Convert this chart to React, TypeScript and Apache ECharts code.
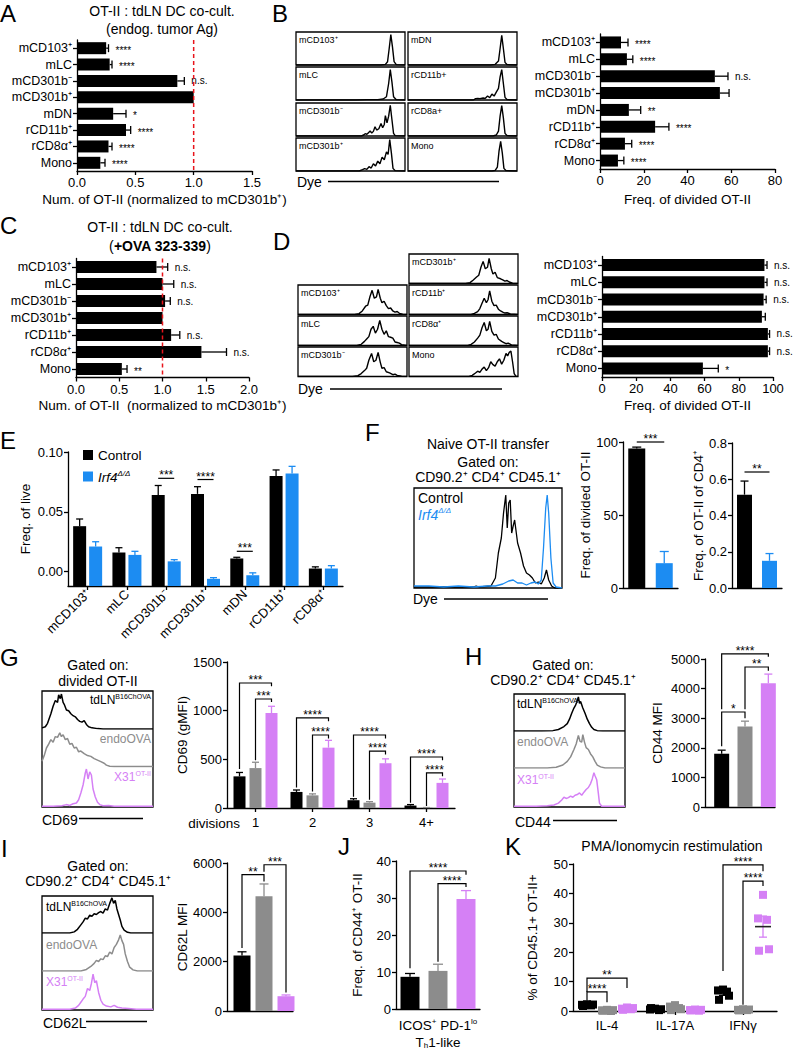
import React, { useEffect, useRef } from "react";
import * as echarts from "echarts";

const FONT = '"Liberation Sans", Arial, Helvetica, sans-serif';
const BLACK = "#000000";
const GRAY = "#8c8c8c";
const PINK = "#d580f5";
const BLUE = "#1c8cf2";
const RED = "#e8141b";

/* ---------------- Panel A ---------------- */
const A_CATS = ["mCD103⁺", "mLC", "mCD301b⁻", "mCD301b⁺", "mDN", "rCD11b⁺", "rCD8α⁺", "Mono"];
const A_MEAN = [0.25, 0.28, 0.86, 1.0, 0.31, 0.42, 0.27, 0.2];
const A_ERR = [0.27, 0.3, 0.92, 1.0, 0.42, 0.46, 0.3, 0.24];
const A_SIG = ["****", "****", "n.s.", "", "*", "****", "****", "****"];
const A_REF = [1.0];

/* ---------------- Panel B ---------------- */
const B_CATS = ["mCD103⁺", "mLC", "mCD301b⁻", "mCD301b⁺", "mDN", "rCD11b⁺", "rCD8α⁺", "Mono"];
const B_MEAN = [9.6, 12.3, 52.5, 54.8, 13.2, 25.2, 11.4, 8.2];
const B_ERR = [12.8, 15.0, 58.5, 59.0, 18.6, 31.5, 14.5, 10.9];
const B_SIG = ["****", "****", "n.s.", "", "**", "****", "****", "****"];
const B_HIST_LEFT = ["mCD103⁺", "mLC", "mCD301b⁻", "mCD301b⁺"];
const B_HIST_RIGHT = ["mDN", "rCD11b+", "rCD8a+", "Mono"];
const HB_MCD103 = [[0, 0], [78, 0], [82, 2], [84, 10], [85.5, 50], [87, 92], [88.5, 55], [90, 10], [92, 1], [100, 0]];
const HB_MLC = [[0, 0], [55, 0], [65, 1], [75, 1], [80, 3], [83, 10], [85, 50], [86.5, 92], [88, 55], [89.5, 10], [92, 1], [100, 0]];
const HB_MCD301BN = [[0, 0], [60, 0], [62, 3], [63.5, 7], [65, 5], [66.5, 10], [68, 15], [69.5, 9], [71, 14], [72.5, 28], [74, 18], [76, 22], [78, 38], [79.5, 25], [81, 35], [82, 62], [83.5, 40], [85, 60], [86.5, 93], [88, 50], [89.5, 8], [91, 1], [100, 0]];
const HB_MCD301BP = [[0, 0], [58, 0], [61, 4], [63, 7], [65, 5], [67, 13], [69, 9], [71, 22], [73, 15], [75, 30], [77, 22], [79, 42], [81, 34], [83, 58], [84.5, 50], [86, 95], [87.5, 55], [89, 8], [91, 1], [100, 0]];
const HB_MDN = [[0, 0], [76, 0], [80, 2], [83, 12], [84.5, 50], [86, 90], [87.5, 50], [89, 8], [91, 1], [100, 0]];
const HB_RCD11B = [[0, 0], [60, 0], [62, 4], [64, 5], [66, 4], [69, 6], [71, 5], [73, 12], [75, 7], [77, 18], [79, 12], [81, 24], [83, 35], [84.5, 70], [86, 92], [87.5, 50], [89, 8], [91, 1], [100, 0]];
const HB_RCD8A = [[0, 0], [78, 0], [81, 3], [83, 15], [84.5, 60], [86, 92], [87.5, 55], [89, 8], [91, 1], [100, 0]];
const HB_MONO = [[0, 0], [77, 0], [80, 2], [82, 12], [83.5, 60], [85, 90], [86.5, 55], [88, 8], [90, 1], [100, 0]];

/* ---------------- Panel C ---------------- */
const C_CATS = ["mCD103⁺", "mLC", "mCD301b⁻", "mCD301b⁺", "rCD11b⁺", "rCD8α⁺", "Mono"];
const C_MEAN = [0.93, 1.0, 1.03, 1.0, 1.1, 1.45, 0.53];
const C_ERR = [1.06, 1.13, 1.09, 1.0, 1.2, 1.74, 0.59];
const C_SIG = ["n.s.", "n.s.", "n.s.", "", "n.s.", "n.s.", "**"];
const C_REF = [1.0];

/* ---------------- Panel D ---------------- */
const D_CATS = ["mCD103⁺", "mLC", "mCD301b⁻", "mCD301b⁺", "rCD11b⁺", "rCD8α⁺", "Mono"];
const D_MEAN = [95, 95, 94.5, 93.5, 97, 97, 59];
const D_ERR = [96.5, 96.5, 96, 95.5, 98, 98, 68];
const D_SIG = ["n.s.", "n.s.", "n.s.", "", "n.s.", "n.s.", "*"];
const D_HIST_LEFT = ["mCD103⁺", "mLC", "mCD301b⁻"];
const D_HIST_RIGHT = ["mCD301b⁺", "rCD11b⁺", "rCD8α⁺", "Mono"];
const HD_MCD103 = [[0, 0], [52, 0], [56, 3], [59, 12], [62, 28], [64, 32], [66, 60], [68, 82], [70, 55], [72, 60], [73.5, 85], [75.5, 55], [77, 40], [79, 45], [81, 30], [83, 20], [85, 22], [87, 12], [89, 8], [91, 10], [93, 4], [96, 1], [100, 0]];
const HD_MLC = [[0, 0], [54, 0], [58, 4], [61, 14], [63, 22], [65, 30], [67, 55], [69, 65], [71, 42], [73, 55], [75, 85], [77, 55], [79, 38], [81, 50], [83, 30], [85, 28], [87, 25], [89, 12], [91, 10], [93, 8], [95, 3], [100, 0]];
const HD_MCD301BN = [[0, 0], [50, 0], [55, 3], [58, 10], [61, 20], [63, 28], [65, 55], [67.5, 78], [69.5, 50], [71.5, 55], [73.5, 82], [75.5, 48], [77, 28], [79, 30], [81, 16], [84, 12], [87, 6], [89, 8], [91, 4], [95, 1], [100, 0]];
const HD_MCD301BP = [[0, 0], [52, 0], [56, 3], [59, 12], [62, 22], [64, 28], [66, 55], [68, 75], [70, 50], [72, 55], [73.5, 85], [75.5, 50], [77, 32], [79, 38], [81, 20], [84, 16], [86, 12], [88, 8], [90, 10], [92, 5], [95, 1], [100, 0]];
const HD_RCD11B = [[0, 0], [57, 0], [60, 4], [63, 10], [65, 20], [67, 38], [69, 55], [71, 40], [72.5, 50], [74, 80], [76, 45], [78, 30], [80, 32], [82, 18], [84, 12], [86, 8], [88, 5], [90, 6], [93, 2], [100, 0]];
const HD_RCD8A = [[0, 0], [54, 0], [57, 4], [60, 12], [63, 25], [65, 35], [67, 60], [69, 78], [71, 50], [72.5, 55], [74, 82], [76, 48], [78, 35], [80, 38], [82, 22], [85, 14], [87, 10], [89, 6], [91, 8], [94, 2], [100, 0]];
const HD_MONO = [[0, 0], [55, 0], [58, 4], [61, 12], [63, 18], [65, 14], [67, 25], [69, 32], [71, 20], [73, 30], [75, 50], [77, 40], [79, 35], [81, 50], [83, 60], [85, 42], [87, 55], [89, 78], [90.5, 70], [92, 82], [93.5, 86], [95, 50], [96.5, 10], [98, 1], [100, 0]];

/* ---------------- Panel E ---------------- */
const E_CATS = ["mCD103⁺", "mLC", "mCD301b⁻", "mCD301b⁺", "mDN", "rCD11b⁺", "rCD8α⁺"];
const E_CTRL = [0.038, 0.016, 0.064, 0.065, 0.011, 0.08, 0.0026];
const E_CTRL_ERR = [0.044, 0.02, 0.072, 0.071, 0.012, 0.085, 0.004];
const E_IRF4 = [0.021, 0.014, 0.0086, -0.006, -0.003, 0.082, 0.0026];
const E_IRF4_ERR = [0.025, 0.017, 0.01, -0.005, -0.001, 0.088, 0.005];
const E_TICKS = [0, 0.05, 0.1];
const E_BRK = [[2, 0, 2, 1, 0.078, 0.078, 0.078], [3, 0, 3, 1, 0.077, 0.077, 0.077], [4, 0, 4, 1, 0.017, 0.017, 0.017]];
const E_BRK_LAB = ["***", "****", "***"];

/* ---------------- Panel F ---------------- */
const F_CATS = ["Control", "Irf4"];
const F1_VAL = [95.5, 17];
const F1_ERR = [96.5, 25];
const F2_VAL = [0.515, 0.15];
const F2_ERR = [0.59, 0.19];
const F1_BRK = [[0, 0, 1, 0, 100, 100, 100]];
const F2_BRK = [[0, 0, 1, 0, 0.64, 0.64, 0.64]];
const HF_CTRL = [[0, 1], [30, 1], [40, 1], [42, 2], [44, 1], [52, 2], [55, 10], [57, 35], [59, 50], [60.5, 75], [62, 93], [63, 60], [64, 85], [65, 88], [66, 55], [67, 62], [68, 68], [70, 45], [72, 35], [74, 22], [76, 15], [78, 13], [80, 10], [82, 5], [84, 6], [86, 4], [88, 10], [89.5, 18], [91, 8], [93, 2], [95, 0], [100, 0]];
const HF_IRF4 = [[0, 2], [10, 2], [20, 1], [30, 2], [40, 1], [50, 2], [55, 2], [60, 4], [64, 7], [67, 8], [70, 5], [73, 5], [76, 3], [79, 5], [82, 6], [84, 4], [86, 8], [87.5, 40], [89, 80], [90, 93], [91, 75], [92.5, 30], [94, 5], [96, 1], [100, 0]];

/* ---------------- Panel G ---------------- */
const G_CATS = ["1", "2", "3", "4+"];
const G_TD = [325, 165, 80, 25];
const G_TD_ERR = [365, 185, 95, 35];
const G_ENDO = [410, 130, 55, 3];
const G_ENDO_ERR = [470, 145, 65, 5];
const G_X31 = [975, 620, 460, 258];
const G_X31_ERR = [1045, 695, 505, 298];
const G_BRK = [[0, 0, 0, 2, 1284, 400, 1250], [0, 1, 0, 2, 1120, 490, 1090], [1, 0, 1, 2, 925, 210, 890], [1, 1, 1, 2, 750, 170, 715], [2, 0, 2, 2, 750, 115, 715], [2, 1, 2, 2, 585, 85, 550], [3, 0, 3, 2, 524, 55, 490], [3, 1, 3, 2, 360, 20, 325]];
const G_BRK_LAB = ["***", "***", "****", "****", "****", "****", "****", "****"];
const HG_TD = [[0, 3], [3, 6], [5, 15], [8, 40], [10, 60], [12, 75], [14, 70], [15, 90], [16.5, 80], [17.5, 92], [19, 70], [20, 65], [22, 50], [24, 48], [26, 40], [28, 35], [30, 32], [32, 25], [34, 20], [36, 18], [38, 22], [40, 12], [42, 6], [45, 3], [50, 1], [55, 0], [100, 0]];
const HG_ENDO = [[0, 15], [2, 30], [4, 50], [6, 60], [8, 72], [10, 65], [12, 80], [14, 78], [16, 90], [17.5, 80], [19, 85], [21, 72], [23, 75], [25, 60], [27, 62], [29, 50], [31, 52], [33, 40], [35, 42], [38, 35], [41, 30], [44, 28], [47, 22], [50, 18], [53, 14], [56, 10], [58, 5], [61, 2], [65, 1], [100, 1]];
const HG_X31 = [[0, 2], [10, 2], [18, 3], [22, 6], [25, 4], [28, 8], [31, 10], [33, 18], [35, 35], [37, 55], [39, 85], [40, 95], [41.5, 70], [43, 88], [44.5, 80], [46, 45], [48, 25], [50, 12], [52, 6], [55, 3], [60, 4], [65, 2], [75, 2], [100, 2]];

/* ---------------- Panel H ---------------- */
const H_CATS = ["tdLN", "endoOVA", "X31"];
const H_VAL = [1800, 2720, 4180];
const H_ERR = [1920, 2900, 4490];
const H_BRK = [[0, 0, 2, 0, 5170, 3300, 5080], [0, 0, 1, 0, 3210, 2050, 3000], [1, 0, 2, 0, 4730, 3300, 4600]];
const H_BRK_LAB = ["****", "*", "**"];
const HH_TD = [[0, 0], [25, 0], [35, 1], [40, 4], [45, 12], [48, 20], [50, 32], [52, 48], [54, 62], [55.5, 70], [56.5, 78], [58, 92], [59, 75], [60, 80], [62, 62], [64, 48], [66, 32], [68, 20], [70, 10], [72, 4], [75, 1], [80, 0], [100, 0]];
const HH_ENDO = [[0, 0], [30, 0], [38, 2], [44, 8], [48, 18], [51, 30], [54, 50], [56, 65], [58, 88], [59.5, 72], [61, 70], [62, 90], [63.5, 70], [65, 55], [67, 50], [69, 38], [71, 30], [73, 18], [75, 8], [78, 3], [82, 0], [100, 0]];
const HH_X31 = [[0, 2], [20, 2], [30, 3], [36, 5], [40, 10], [43, 18], [45, 25], [47, 22], [49, 24], [51, 28], [53, 25], [55, 30], [57, 32], [59, 36], [61, 30], [63, 38], [65, 45], [67, 50], [69, 60], [70.5, 72], [72, 88], [73, 80], [74.5, 70], [76, 35], [77, 10], [79, 2], [100, 2]];

/* ---------------- Panel I ---------------- */
const I_CATS = ["tdLN", "endoOVA", "X31"];
const I_VAL = [2250, 4650, 600];
const I_ERR = [2400, 5150, 650];
const I_BRK = [[0, 0, 1, 0, 5530, 2550, 5250], [1, 0, 2, 0, 5930, 5650, 750]];
const I_BRK_LAB = ["**", "***"];
const HI_TD = [[0, 0], [25, 0], [29, 3], [32, 10], [35, 22], [37, 30], [39, 40], [41, 38], [43, 48], [45, 45], [47, 52], [49, 50], [51, 55], [53, 58], [55, 54], [57, 65], [59, 62], [61, 80], [63, 95], [64.5, 80], [66, 88], [67.5, 65], [69, 50], [70.5, 35], [72, 18], [74, 8], [77, 2], [80, 0], [100, 0]];
const HI_ENDO = [[0, 0], [35, 0], [40, 4], [44, 12], [47, 20], [49, 28], [51, 25], [53, 32], [55, 30], [57, 40], [59, 38], [61, 50], [63, 45], [65, 62], [67, 70], [69, 82], [70.5, 95], [72, 80], [73.5, 70], [75, 45], [77, 25], [79, 10], [82, 3], [86, 0], [100, 0]];
const HI_X31 = [[0, 2], [25, 2], [30, 5], [33, 12], [35, 20], [37, 28], [39, 35], [41, 55], [43, 50], [44.5, 68], [46, 92], [47.5, 70], [49, 75], [51, 45], [53, 25], [55, 15], [58, 10], [62, 8], [65, 12], [68, 7], [72, 5], [78, 4], [85, 2], [100, 2]];

/* ---------------- Panel J ---------------- */
const J_CATS = ["tdLN", "endoOVA", "X31"];
const J_VAL = [8.7, 10.3, 29.7];
const J_ERR = [9.6, 12.1, 32.0];
const J_BRK = [[0, 0, 2, 0, 37.3, 11, 36.3], [1, 0, 2, 0, 33.9, 12.8, 33]];
const J_BRK_LAB = ["****", "****"];

/* ---------------- Panel K ---------------- */
const K_CATS = ["IL-4", "IL-17A", "IFNγ"];
const K_TD = [[2.3, 2.1, 1.9, 2.2, 1.7], [0.8, 0.5, 0.3, 0.6, 1.0], [7.3, 7.0, 6.6, 5.2, 3.8]];
const K_ENDO = [[0.4, 0.2, 0.0, 0.3, 0.1], [2.0, 1.5, 1.0, 0.6, 0.3], [0.6, 0.4, 0.3, 0.5, 0.2]];
const K_X31 = [[1.2, 0.8, 0.6, 1.0, 0.4], [0.5, 0.3, 0.1, 0.4, 0.2], [39.5, 31.5, 31.0, 21.0, 20.5]];
const K_BRK = [[0, 0, 0, 2, 11.2, 6.5, 7.8], [0, 0, 0, 1, 6.5, 3.5, 3.0], [2, 0, 2, 2, 49.7, 13.6, 47.5], [2, 1, 2, 2, 44.2, 2.1, 42.5]];
const K_BRK_LAB = ["**", "****", "****", "****"];
const K_JIT = [0, -5, 4, 6, -4];

const plain = (v: number) => String(v);

function buildOption() {
  const grids: any[] = [];
  const xAxes: any[] = [];
  const yAxes: any[] = [];
  const series: any[] = [];
  const gfx: any[] = [];

  const addGrid = (rect: any, xa: any, ya: any) => {
    const gi = grids.length;
    grids.push({ containLabel: false, ...rect });
    xAxes.push({ ...xa, gridIndex: gi });
    yAxes.push({ ...ya, gridIndex: gi });
    return gi;
  };
  const LS = { color: "#000", width: 1.3 };
  const nameStyle = { color: "#000", fontSize: 13.5, fontFamily: FONT };
  const vAxis = (min: number, max: number, interval: any, o: any = {}) => ({
    type: "value", min, max, interval,
    minInterval: o.minInterval, maxInterval: o.maxInterval,
    axisLine: { show: true, onZero: false, lineStyle: LS },
    axisTick: { show: true, length: 4, lineStyle: LS, ...(o.tick || {}) },
    axisLabel: { color: "#000", fontSize: 13, fontFamily: FONT, margin: 5, formatter: plain, ...(o.label || {}) },
    splitLine: { show: false },
    name: o.name, nameLocation: "middle", nameGap: o.nameGap, nameRotate: o.nameRotate, nameTextStyle: nameStyle,
  });
  const cAxis = (data: string[], o: any = {}) => ({
    type: "category", data, inverse: !!o.inverse,
    axisLine: { show: true, onZero: false, lineStyle: LS },
    axisTick: { show: o.tickShow !== false, length: 4, alignWithLabel: true, interval: 0, lineStyle: LS },
    axisLabel: { show: o.labelShow !== false, interval: 0, color: "#000", fontSize: o.size || 13, fontFamily: FONT, margin: 5, ...(o.label || {}) },
    splitLine: { show: false },
  });
  const HID = (min: number, max: number) => ({ type: "value", min, max, show: false });

  const T = (x: number, y: number, text: string, o: any = {}) => {
    gfx.push({
      type: "text", x, y, silent: true, z: 20, rotation: o.rot || 0,
      style: {
        text, fill: o.color || "#000",
        font: `${o.italic ? "italic " : ""}${o.bold ? "bold " : ""}${o.size || 13.5}px ${FONT}`,
        textAlign: o.align || "left", align: o.align || "left",
        textVerticalAlign: o.va || "middle", verticalAlign: o.va || "middle",
        rich: o.rich,
      },
    });
  };
  const L = (x1: number, y1: number, x2: number, y2: number, w = 1.3, color = "#000") => {
    gfx.push({ type: "line", silent: true, z: 20, shape: { x1, y1, x2, y2 }, style: { stroke: color, lineWidth: w } });
  };
  const richSet = (size: number, color: string, sup = 7, italic = false) => ({
    m: { fontSize: size, fontFamily: FONT, fill: color, fontStyle: italic ? "italic" : "normal", lineHeight: size + 1, verticalAlign: "bottom" },
    s: { fontSize: sup, fontFamily: FONT, fill: color, fontStyle: italic ? "italic" : "normal", verticalAlign: "top" },
    d: { fontSize: sup, fontFamily: FONT, fill: color, verticalAlign: "bottom" },
    b: { fontSize: size, fontFamily: FONT, fill: color, fontWeight: "bold", lineHeight: size + 1, verticalAlign: "bottom" },
  });

  const barSeries = (gi: number, vals: number[], errs: number[], o: any) => ({
    type: "custom", name: o.name, xAxisIndex: gi, yAxisIndex: gi, silent: true, clip: false, z: 3,
    itemStyle: { color: o.color || BLACK },
    dimensions: ["c", "v", "e"],
    encode: o.horizontal ? { y: 0, x: [1, 2] } : { x: 0, y: [1, 2] },
    data: vals.map((v, i) => [i, v, errs[i]]),
    renderItem: (params: any, api: any) => {
      const i = api.value(0), v = api.value(1), e = api.value(2);
      const base = o.base || 0, off = o.offset || 0, w = o.width;
      const cap = o.cap || Math.round(w * 0.55);
      const col = o.colors ? o.colors[i] : o.color;
      const ls = { stroke: col, lineWidth: 1.3 };
      const ch: any[] = [];
      if (o.horizontal) {
        const p = api.coord([v, i]), b = api.coord([base, i]), pe = api.coord([e, i]);
        const y = p[1] + off;
        ch.push({ type: "rect", shape: { x: b[0], y: y - w / 2, width: p[0] - b[0], height: w }, style: { fill: col } });
        if (e > v) {
          ch.push({ type: "line", shape: { x1: p[0], y1: y, x2: pe[0], y2: y }, style: ls });
          ch.push({ type: "line", shape: { x1: pe[0], y1: y - cap / 2, x2: pe[0], y2: y + cap / 2 }, style: ls });
        }
        const s = o.sig && o.sig[i];
        if (s) {
          const ns = s === "n.s.";
          ch.push({
            type: "text", x: Math.max(pe[0], p[0]) + 7, y: y + (ns ? 0 : 2),
            style: { text: s, fill: "#000", font: `10px ${FONT}`, textAlign: "left", align: "left", textVerticalAlign: "middle", verticalAlign: "middle" },
          });
        }
      } else {
        const p = api.coord([i, v]), b = api.coord([i, base]), pe = api.coord([i, e]);
        const x = p[0] + off;
        const top = Math.min(p[1], b[1]);
        ch.push({ type: "rect", shape: { x: x - w / 2, y: top, width: w, height: Math.abs(b[1] - p[1]) }, style: { fill: col } });
        if (e > v) {
          ch.push({ type: "line", shape: { x1: x, y1: p[1], x2: x, y2: pe[1] }, style: ls });
          ch.push({ type: "line", shape: { x1: x - cap / 2, y1: pe[1], x2: x + cap / 2, y2: pe[1] }, style: ls });
        }
      }
      return { type: "group", children: ch };
    },
  });

  const brackets = (gi: number, items: number[][], labels: string[], offs: number[], size = 12) => ({
    type: "custom", xAxisIndex: gi, yAxisIndex: gi, silent: true, clip: false, z: 6,
    encode: { x: 0, y: 4 },
    data: items,
    renderItem: (params: any, api: any) => {
      const c1 = api.value(0), m1 = api.value(1), c2 = api.value(2), m2 = api.value(3);
      const yv = api.value(4), yl = api.value(5), yr = api.value(6);
      const p1 = api.coord([c1, yv]), p2 = api.coord([c2, yv]);
      const x1 = p1[0] + offs[m1], x2 = p2[0] + offs[m2];
      const ly = api.coord([c1, yl])[1], ry = api.coord([c2, yr])[1];
      return {
        type: "group",
        children: [
          { type: "polyline", shape: { points: [[x1, ly], [x1, p1[1]], [x2, p1[1]], [x2, ry]] }, style: { stroke: "#000", lineWidth: 1.2, fill: "none" } },
          {
            type: "text", x: (x1 + x2) / 2, y: p1[1] + 3,
            style: { text: labels[params.dataIndex], fill: "#000", font: `${size}px ${FONT}`, textAlign: "center", align: "center", textVerticalAlign: "bottom", verticalAlign: "bottom" },
          },
        ],
      };
    },
  });

  const refLine = (gi: number, vals: number[]) => ({
    type: "custom", xAxisIndex: gi, yAxisIndex: gi, silent: true, clip: false, z: 8,
    encode: { x: 0 }, data: vals.map((v) => [v]),
    renderItem: (params: any, api: any) => {
      const cs = params.coordSys;
      const x = api.coord([api.value(0), 0])[0];
      return { type: "line", shape: { x1: x, y1: cs.y, x2: x, y2: cs.y + cs.height }, style: { stroke: RED, lineWidth: 1.5, lineDash: [4, 3] } };
    },
  });

  const hist = (rect: any, curves: any[][], frame: boolean, width = 1.4) => {
    const gi = addGrid({ ...rect, show: frame, borderColor: "#000", borderWidth: 1.3, backgroundColor: "transparent" }, HID(0, 100), HID(0, 100));
    curves.forEach(([curve, color]) => {
      series.push({
        type: "line", xAxisIndex: gi, yAxisIndex: gi, data: curve, symbol: "none", showSymbol: false, silent: true,
        lineStyle: { color, width }, itemStyle: { color }, z: 3,
      });
    });
    return gi;
  };

  const dots = (gi: number, valsByCat: number[][], color: string, off: number, size = 8) => {
    const data: number[][] = [];
    valsByCat.forEach((arr, c) => arr.forEach((v, j) => data.push([c, v, j])));
    return {
      type: "custom", xAxisIndex: gi, yAxisIndex: gi, silent: true, clip: false, z: 5,
      encode: { x: 0, y: 1 }, data,
      renderItem: (params: any, api: any) => {
        const p = api.coord([api.value(0), api.value(1)]);
        const x = p[0] + off + K_JIT[api.value(2)];
        return { type: "rect", shape: { x: x - size / 2, y: p[1] - size / 2, width: size, height: size }, style: { fill: color } };
      },
    };
  };
  const meanSem = (gi: number, valsByCat: number[][], color: string, off: number) => {
    const data = valsByCat.map((arr, c) => {
      const n = arr.length;
      const m = arr.reduce((a, b) => a + b, 0) / n;
      const sd = Math.sqrt(arr.reduce((a, b) => a + (b - m) * (b - m), 0) / (n - 1));
      const se = sd / Math.sqrt(n);
      return [c, m, m - se, m + se];
    });
    return {
      type: "custom", xAxisIndex: gi, yAxisIndex: gi, silent: true, clip: false, z: 4,
      encode: { x: 0, y: 1 }, data,
      renderItem: (params: any, api: any) => {
        const c = api.value(0);
        const pm = api.coord([c, api.value(1)]), pl = api.coord([c, api.value(2)]), ph = api.coord([c, api.value(3)]);
        const x = pm[0] + off;
        const st = { stroke: color, lineWidth: 1.3 };
        return {
          type: "group",
          children: [
            { type: "line", shape: { x1: x, y1: pl[1], x2: x, y2: ph[1] }, style: st },
            { type: "line", shape: { x1: x - 4, y1: pl[1], x2: x + 4, y2: pl[1] }, style: st },
            { type: "line", shape: { x1: x - 4, y1: ph[1], x2: x + 4, y2: ph[1] }, style: st },
            { type: "line", shape: { x1: x - 8, y1: pm[1], x2: x + 8, y2: pm[1] }, style: { stroke: "#222", lineWidth: 1.6 } },
          ],
        };
      },
    };
  };

  /* ---------- Panel letters ---------- */
  const LET = 24;
  T(0, 13, "A", { size: LET });
  T(272, 13, "B", { size: LET });
  T(0, 225, "C", { size: LET });
  T(273, 241, "D", { size: LET });
  T(0, 440, "E", { size: LET });
  T(365, 432, "F", { size: LET });
  T(0, 657, "G", { size: LET });
  T(465, 656, "H", { size: LET });
  T(1, 848, "I", { size: LET });
  T(338, 846, "J", { size: LET });
  T(505, 846, "K", { size: LET });

  /* ---------- A ---------- */
  T(162, 11, "OT-II : tdLN DC co-cult.", { align: "center", size: 14 });
  T(162, 29, "(endog. tumor Ag)", { align: "center", size: 14 });
  const gA = addGrid({ left: 77, top: 40, width: 175, height: 131 },
    vAxis(0, 1.5, 0.5, { label: { formatter: (v: number) => v.toFixed(1) }, name: "Num. of OT-II (normalized to mCD301b⁺)", nameGap: 21 }),
    cAxis(A_CATS, { inverse: true, size: 12.5 }));
  series.push(barSeries(gA, A_MEAN, A_ERR, { horizontal: true, color: BLACK, width: 12, cap: 8, sig: A_SIG }));
  series.push(refLine(gA, A_REF));

  /* ---------- B ---------- */
  const bCurvesL = [HB_MCD103, HB_MLC, HB_MCD301BN, HB_MCD301BP];
  const bCurvesR = [HB_MDN, HB_RCD11B, HB_RCD8A, HB_MONO];
  const bTops = [32, 67, 103, 138];
  bTops.forEach((t, r) => {
    hist({ left: 296, top: t, width: 109, height: 33 }, [[bCurvesL[r], BLACK]], true);
    hist({ left: 408, top: t, width: 109, height: 33 }, [[bCurvesR[r], BLACK]], true);
    T(299, t + 8, B_HIST_LEFT[r], { size: 9 });
    T(411, t + 8, B_HIST_RIGHT[r], { size: 9 });
  });
  T(297, 182, "Dye", { size: 14 });
  L(328, 181.5, 499, 181.5);
  const gB = addGrid({ left: 600, top: 34, width: 175, height: 135 },
    vAxis(0, 80, 20, { name: "Freq. of divided OT-II", nameGap: 23 }),
    cAxis(B_CATS, { inverse: true, size: 12.5 }));
  series.push(barSeries(gB, B_MEAN, B_ERR, { horizontal: true, color: BLACK, width: 12, cap: 8, sig: B_SIG }));

  /* ---------- C ---------- */
  T(160, 227, "OT-II : tdLN DC co-cult.", { align: "center", size: 14 });
  T(160, 245, "{m|(}{b|+OVA 323-339}{m|)}", { align: "center", rich: richSet(14, "#000") });
  const gC = addGrid({ left: 76, top: 258.5, width: 173, height: 119 },
    vAxis(0, 2, 0.5, { label: { formatter: (v: number) => v.toFixed(1) }, name: "Num. of OT-II  (normalized to mCD301b⁺)", nameGap: 21 }),
    cAxis(C_CATS, { inverse: true, size: 12.5 }));
  series.push(barSeries(gC, C_MEAN, C_ERR, { horizontal: true, color: BLACK, width: 12, cap: 8, sig: C_SIG }));
  series.push(refLine(gC, C_REF));

  /* ---------- D ---------- */
  const dCurvesL = [HD_MCD103, HD_MLC, HD_MCD301BN];
  const dCurvesR = [HD_MCD301BP, HD_RCD11B, HD_RCD8A, HD_MONO];
  const dTopsR = [254, 285, 316, 347];
  dTopsR.forEach((t, r) => {
    hist({ left: 409, top: t, width: 109, height: 29.5 }, [[dCurvesR[r], BLACK]], true);
    T(412, t + 8, D_HIST_RIGHT[r], { size: 9 });
    if (r > 0) {
      hist({ left: 298, top: t, width: 109, height: 29.5 }, [[dCurvesL[r - 1], BLACK]], true);
      T(301, t + 8, D_HIST_LEFT[r - 1], { size: 9 });
    }
  });
  T(298, 389, "Dye", { size: 14 });
  L(330, 389, 502, 389);
  const gD = addGrid({ left: 602, top: 256.5, width: 171, height: 120.5 },
    vAxis(0, 100, 20, { name: "Freq. of divided OT-II", nameGap: 21 }),
    cAxis(D_CATS, { inverse: true, size: 12.5 }));
  series.push(barSeries(gD, D_MEAN, D_ERR, { horizontal: true, color: BLACK, width: 12, cap: 8, sig: D_SIG }));

  /* ---------- E ---------- */
  const gE = addGrid({ left: 68, top: 452, width: 275, height: 134 },
    cAxis(E_CATS, { label: { rotate: 45, margin: 6 } }),
    vAxis(-0.012, 0.1, undefined, {
      minInterval: 0.05, maxInterval: 0.05,
      label: { customValues: E_TICKS, formatter: (v: number) => (v < -1e-9 ? "" : v.toFixed(2)) },
      tick: { customValues: E_TICKS },
      name: "Freq. of live", nameGap: 36, nameRotate: 90,
    }));
  series.push(barSeries(gE, E_CTRL, E_CTRL_ERR, { name: "Control", color: BLACK, width: 13, offset: -8, base: -0.012, cap: 7 }));
  series.push(barSeries(gE, E_IRF4, E_IRF4_ERR, { name: "Irf4", color: BLUE, width: 13, offset: 8, base: -0.012, cap: 7 }));
  series.push(brackets(gE, E_BRK, E_BRK_LAB, [-8, 8]));

  /* ---------- F ---------- */
  T(488, 444, "Naive OT-II transfer", { align: "center", size: 14 });
  T(488, 462, "Gated on:", { align: "center", size: 14 });
  T(488, 477, "CD90.2⁺ CD4⁺ CD45.1⁺", { align: "center", size: 14 });
  hist({ left: 414, top: 488, width: 148, height: 100 }, [[HF_CTRL, BLACK], [HF_IRF4, BLUE]], true, 1.3);
  T(418, 498, "Control", { size: 14 });
  T(418, 514, "{m|Irf4}{s|Δ/Δ}", { rich: richSet(14, BLUE, 8, true) });
  T(413, 599, "Dye", { size: 14 });
  L(444, 599, 548, 599);
  const gF1 = addGrid({ left: 623, top: 442, width: 55, height: 146 },
    cAxis(F_CATS, { tickShow: false, labelShow: false }),
    vAxis(0, 100, 50, { name: "Freq. of divided OT-II", nameGap: 23.5, nameRotate: 90 }));
  series.push(barSeries(gF1, F1_VAL, F1_ERR, { colors: [BLACK, BLUE], color: BLACK, width: 17, cap: 9 }));
  series.push(brackets(gF1, F1_BRK, ["***"], [0]));
  const gF2 = addGrid({ left: 732, top: 443, width: 50, height: 145 },
    cAxis(F_CATS, { tickShow: false, labelShow: false }),
    vAxis(0, 0.8, 0.2, { label: { formatter: (v: number) => v.toFixed(1) }, name: "Freq. of OT-II of CD4⁺", nameGap: 23.5, nameRotate: 90 }));
  series.push(barSeries(gF2, F2_VAL, F2_ERR, { colors: [BLACK, BLUE], color: BLACK, width: 15, cap: 8 }));
  series.push(brackets(gF2, F2_BRK, ["**"], [0]));

  /* ---------- G ---------- */
  T(98, 665, "Gated on:", { align: "center", size: 14 });
  T(98, 681, "divided OT-II", { align: "center", size: 14 });
  hist({ left: 42, top: 691, width: 111, height: 116 }, [], true);
  hist({ left: 42, top: 691, width: 111, height: 38 }, [[HG_TD, BLACK]], false, 1.5);
  hist({ left: 42, top: 729, width: 111, height: 38 }, [[HG_ENDO, GRAY]], false, 1.5);
  hist({ left: 42, top: 767, width: 111, height: 40 }, [[HG_X31, PINK]], false, 1.5);
  T(151, 699, "{m|tdLN}{s|B16ChOVA}", { align: "right", rich: richSet(12, "#000", 7) });
  T(151, 738, "{m|endoOVA}", { align: "right", rich: richSet(12, GRAY, 7) });
  T(151, 776, "{m|X31}{s|OT-II}", { align: "right", rich: richSet(12, PINK, 7) });
  T(42, 820, "CD69", { size: 14 });
  L(79, 818.5, 143, 818.5);
  T(240, 823, "divisions", { align: "right" });
  const gG = addGrid({ left: 227, top: 662, width: 228, height: 146 },
    cAxis(G_CATS, { label: { margin: 8 } }),
    vAxis(0, 1500, 500, { name: "CD69 (gMFI)", nameGap: 38, nameRotate: 90 }));
  series.push(barSeries(gG, G_TD, G_TD_ERR, { color: BLACK, width: 12, offset: -16, cap: 7 }));
  series.push(barSeries(gG, G_ENDO, G_ENDO_ERR, { color: GRAY, width: 12, offset: 0, cap: 7 }));
  series.push(barSeries(gG, G_X31, G_X31_ERR, { color: PINK, width: 12, offset: 16, cap: 7 }));
  series.push(brackets(gG, G_BRK, G_BRK_LAB, [-16, 0, 16]));

  /* ---------- H ---------- */
  T(563, 665, "Gated on:", { align: "center", size: 14 });
  T(563, 680, "CD90.2⁺ CD4⁺ CD45.1⁺", { align: "center", size: 14 });
  hist({ left: 514, top: 694, width: 111, height: 113 }, [], true);
  hist({ left: 514, top: 694, width: 111, height: 37 }, [[HH_TD, BLACK]], false, 1.5);
  hist({ left: 514, top: 731, width: 111, height: 37 }, [[HH_ENDO, GRAY]], false, 1.5);
  hist({ left: 514, top: 768, width: 111, height: 39 }, [[HH_X31, PINK]], false, 1.5);
  T(517, 703, "{m|tdLN}{s|B16ChOVA}", { rich: richSet(12, "#000", 7) });
  T(517, 741, "{m|endoOVA}", { rich: richSet(12, GRAY, 7) });
  T(517, 779, "{m|X31}{s|OT-II}", { rich: richSet(12, PINK, 7) });
  T(515, 822, "CD44", { size: 14 });
  L(553, 820.5, 617, 820.5);
  const gH = addGrid({ left: 705, top: 659, width: 70, height: 148 },
    cAxis(H_CATS, { tickShow: false, labelShow: false }),
    vAxis(0, 5000, 1000, { name: "CD44 MFI", nameGap: 41, nameRotate: 90 }));
  series.push(barSeries(gH, H_VAL, H_ERR, { colors: [BLACK, GRAY, PINK], color: BLACK, width: 15, offset: 5, cap: 8 }));
  series.push(brackets(gH, H_BRK, H_BRK_LAB, [5]));

  /* ---------- I ---------- */
  T(98, 866, "Gated on:", { align: "center", size: 14 });
  T(98, 881, "CD90.2⁺ CD4⁺ CD45.1⁺", { align: "center", size: 14 });
  hist({ left: 42, top: 896, width: 111, height: 114 }, [], true);
  hist({ left: 42, top: 896, width: 111, height: 37 }, [[HI_TD, BLACK]], false, 1.5);
  hist({ left: 42, top: 933, width: 111, height: 38 }, [[HI_ENDO, GRAY]], false, 1.5);
  hist({ left: 42, top: 971, width: 111, height: 39 }, [[HI_X31, PINK]], false, 1.5);
  T(46, 906, "{m|tdLN}{s|B16ChOVA}", { rich: richSet(12, "#000", 7) });
  T(46, 944, "{m|endoOVA}", { rich: richSet(12, GRAY, 7) });
  T(46, 981, "{m|X31}{s|OT-II}", { rich: richSet(12, PINK, 7) });
  T(43, 1023, "CD62L", { size: 14 });
  L(86, 1021.5, 147, 1021.5);
  const gI = addGrid({ left: 227, top: 863, width: 66, height: 148 },
    cAxis(I_CATS, { tickShow: false, labelShow: false }),
    vAxis(0, 6000, 2000, { name: "CD62L MFI", nameGap: 37.5, nameRotate: 90 }));
  series.push(barSeries(gI, I_VAL, I_ERR, { colors: [BLACK, GRAY, PINK], color: BLACK, width: 17, offset: 4, cap: 9 }));
  series.push(brackets(gI, I_BRK, I_BRK_LAB, [4]));

  /* ---------- J ---------- */
  const gJ = addGrid({ left: 396, top: 861, width: 84, height: 148 },
    cAxis(J_CATS, { tickShow: false, labelShow: false }),
    vAxis(0, 40, 10, { name: "Freq. of CD44⁺ OT-II", nameGap: 31.5, nameRotate: 90 }));
  series.push(barSeries(gJ, J_VAL, J_ERR, { colors: [BLACK, GRAY, PINK], color: BLACK, width: 19, cap: 10 }));
  series.push(brackets(gJ, J_BRK, J_BRK_LAB, [0]));
  T(438, 1025, "{m|ICOS}{s|+}{m| PD-1}{s|lo}", { align: "center", rich: richSet(13.5, "#000", 8) });
  T(438, 1042, "{m|T}{d|h}{m|1-like}", { align: "center", rich: richSet(13.5, "#000", 8) });

  /* ---------- K ---------- */
  T(672, 846, "PMA/Ionomycin restimulation", { align: "center", size: 14 });
  const gK = addGrid({ left: 573, top: 864, width: 204, height: 147 },
    cAxis(K_CATS, { label: { margin: 8 } }),
    vAxis(0, 50, 10, { name: "% of CD45.1+ OT-II+", nameGap: 33.5, nameRotate: 90 }));
  series.push(meanSem(gK, K_TD, BLACK, -20));
  series.push(meanSem(gK, K_ENDO, GRAY, 0));
  series.push(meanSem(gK, K_X31, PINK, 20));
  series.push(dots(gK, K_TD, BLACK, -20));
  series.push(dots(gK, K_ENDO, GRAY, 0));
  series.push(dots(gK, K_X31, PINK, 20));
  series.push(brackets(gK, K_BRK, K_BRK_LAB, [-20, 0, 20]));

  return {
    animation: false,
    backgroundColor: "#ffffff",
    textStyle: { fontFamily: FONT },
    legend: {
      left: 78, top: 443, orient: "vertical", itemWidth: 10, itemHeight: 10, itemGap: 7, selectedMode: false,
      icon: "rect",
      data: ["Control", "Irf4"],
      formatter: (n: string) => (n === "Control" ? "{m|Control}" : "{i|Irf4}{s|Δ/Δ}"),
      textStyle: {
        color: "#000", fontSize: 13, fontFamily: FONT,
        rich: {
          m: { fontSize: 13.5, fontFamily: FONT, color: "#000" },
          i: { fontSize: 13.5, fontFamily: FONT, color: "#000", fontStyle: "italic", lineHeight: 15, verticalAlign: "bottom" },
          s: { fontSize: 8, fontFamily: FONT, color: "#000", fontStyle: "italic", verticalAlign: "top" },
        },
      },
    },
    grid: grids,
    xAxis: xAxes,
    yAxis: yAxes,
    series,
    graphic: { elements: gfx },
  };
}

export default function App() {
  const ref = useRef<HTMLDivElement>(null);
  useEffect(() => {
    if (!ref.current) return;
    const chart = echarts.init(ref.current, undefined, { renderer: "svg" });
    chart.setOption(buildOption() as any);
    return () => chart.dispose();
  }, []);
  return (
    <div
      ref={ref}
      style={{ position: "absolute", left: 0, top: 0, width: 796, height: 1050, background: "#fff" }}
    />
  );
}
